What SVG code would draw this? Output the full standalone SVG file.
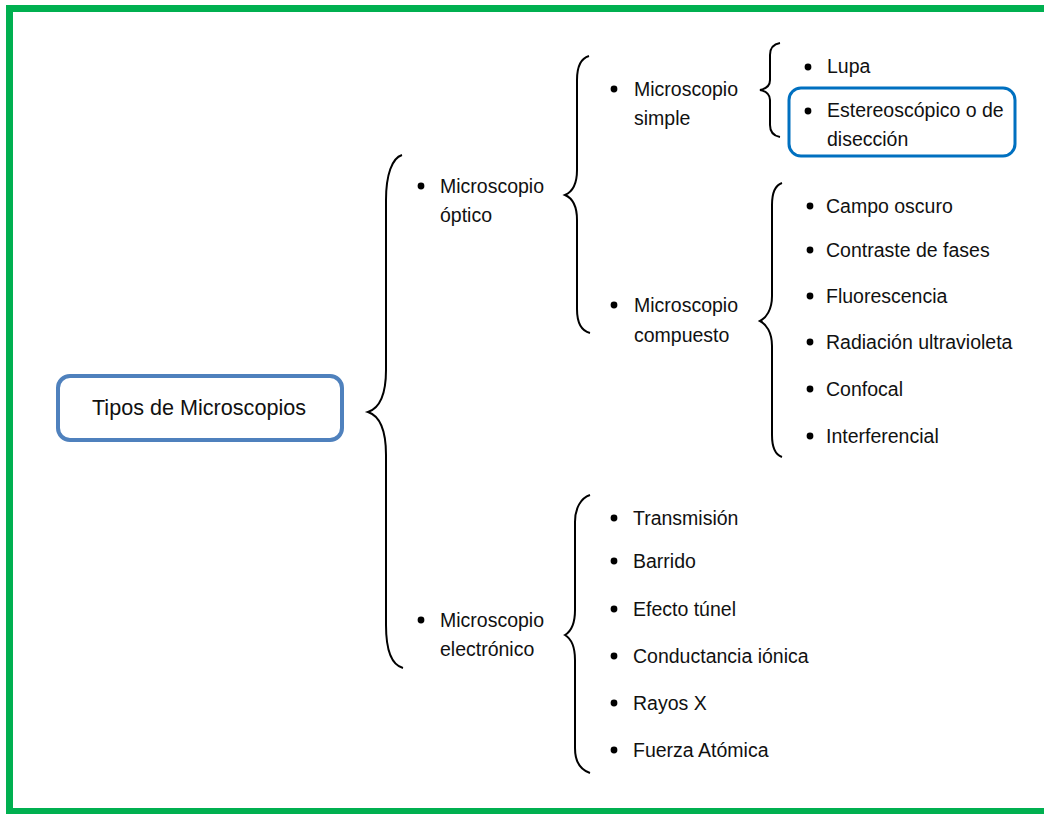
<svg xmlns="http://www.w3.org/2000/svg" width="1044" height="814" viewBox="0 0 1044 814">
<style>
text{font-family:"Liberation Sans",Arial,sans-serif;font-size:19.5px;fill:#111}
.title{font-size:21.6px}
.br{fill:none;stroke:#000;stroke-width:2}
.bul{fill:#000}
</style>
<rect x="0" y="0" width="1044" height="814" fill="#fff"/>
<rect x="9.5" y="8.5" width="1045" height="803" fill="none" stroke="#00B050" stroke-width="7"/>
<g id="connectors">
<path class="br" d="M402,155 C392,158 386,175 386,200 L386,370 C386,395 380,408 368,412 C380,416 386,430 386,455 L386,625 C386,650 392,665 403,668"/>
<path class="br" d="M589,56 C582,58 577,66 577,80 L577,170 C577,185 572,192 565,195 C572,198 577,205 577,220 L577,309 C577,323 582,331 590,333"/>
<path class="br" d="M780,43 C774,44 770,48 770,55 L770,80 C770,86 765,89 760,90 C765,91 770,94 770,100 L770,125 C770,132 774,136 780,137"/>
<path class="br" d="M782,183 C776,185 772,192 772,205 L772,296 C772,310 766,318 760,321 C766,324 772,332 772,346 L772,435 C772,448 776,455 782,457"/>
<path class="br" d="M590,495 C581,498 575,508 575,522 L575,610 C575,625 570,632 565,635 C570,638 575,645 575,660 L575,748 C575,762 581,770 590,773"/>
</g>
<g id="root">
<rect x="58" y="376" width="284" height="64" rx="12" fill="#fff" stroke="#4F81BD" stroke-width="4"/>
<text class="title" x="199" y="415" text-anchor="middle">Tipos de Microscopios</text>
</g>
<g id="optico">
<circle class="bul" cx="421" cy="186" r="3.4"/>
<text x="440" y="193">Microscopio</text>
<text x="440" y="222">óptico</text>
</g>
<g id="electronico">
<circle class="bul" cx="421" cy="620" r="3.4"/>
<text x="440" y="627">Microscopio</text>
<text x="440" y="656">electrónico</text>
</g>
<g id="simple">
<circle class="bul" cx="614" cy="89" r="3.4"/>
<text x="634" y="96">Microscopio</text>
<text x="634" y="125">simple</text>
</g>
<g id="compuesto">
<circle class="bul" cx="614" cy="305" r="3.4"/>
<text x="634" y="312">Microscopio</text>
<text x="634" y="342">compuesto</text>
</g>
<g id="lupa">
<circle class="bul" cx="808" cy="67" r="3.4"/>
<text x="827" y="73">Lupa</text>
</g>
<g id="estereoscopico">
<rect x="789" y="88" width="226" height="68" rx="12" fill="none" stroke="#0070C0" stroke-width="3"/>
<circle class="bul" cx="808" cy="111" r="3.4"/>
<text x="827" y="117">Estereoscópico o de</text>
<text x="827" y="146">disección</text>
</g>
<g id="campo-oscuro"><circle class="bul" cx="810" cy="206" r="3.4"/><text x="826" y="213">Campo oscuro</text></g>
<g id="contraste"><circle class="bul" cx="810" cy="250" r="3.4"/><text x="826" y="257">Contraste de fases</text></g>
<g id="fluorescencia"><circle class="bul" cx="810" cy="296" r="3.4"/><text x="826" y="303">Fluorescencia</text></g>
<g id="radiacion"><circle class="bul" cx="810" cy="342" r="3.4"/><text x="826" y="349">Radiación ultravioleta</text></g>
<g id="confocal"><circle class="bul" cx="810" cy="389" r="3.4"/><text x="826" y="396">Confocal</text></g>
<g id="interferencial"><circle class="bul" cx="810" cy="436" r="3.4"/><text x="826" y="443">Interferencial</text></g>
<g id="transmision"><circle class="bul" cx="614" cy="518" r="3.4"/><text x="633" y="525">Transmisión</text></g>
<g id="barrido"><circle class="bul" cx="614" cy="561" r="3.4"/><text x="633" y="568">Barrido</text></g>
<g id="efecto-tunel"><circle class="bul" cx="614" cy="609" r="3.4"/><text x="633" y="616">Efecto túnel</text></g>
<g id="conductancia"><circle class="bul" cx="614" cy="656" r="3.4"/><text x="633" y="663">Conductancia iónica</text></g>
<g id="rayos-x"><circle class="bul" cx="614" cy="703" r="3.4"/><text x="633" y="710">Rayos X</text></g>
<g id="fuerza-atomica"><circle class="bul" cx="614" cy="750" r="3.4"/><text x="633" y="757">Fuerza Atómica</text></g>
</svg>
